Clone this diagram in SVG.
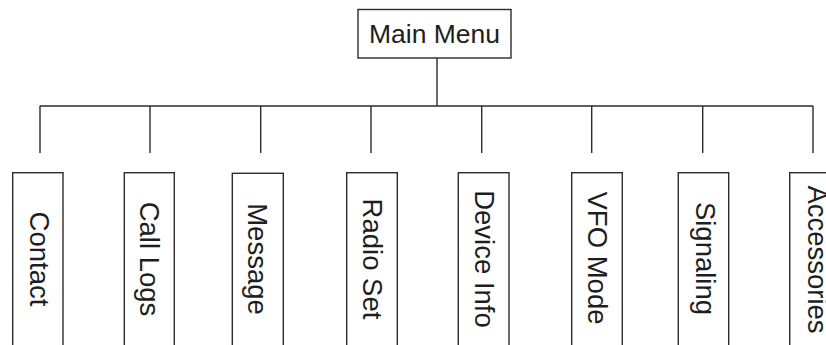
<svg xmlns="http://www.w3.org/2000/svg" width="826" height="345" viewBox="0 0 826 345">
<style>
.box{fill:#fff;stroke:#2b2b2b;stroke-width:1.4}
.ln{fill:none;stroke:#2b2b2b;stroke-width:1.4}
.lbl{font-family:"Liberation Sans",Arial,sans-serif;font-size:27.5px;fill:#1e1e1e;text-anchor:middle}
.ttl{font-family:"Liberation Sans",Arial,sans-serif;font-size:26.5px;fill:#1e1e1e;text-anchor:middle}
</style>
<rect width="826" height="345" fill="#fff"/>
<g id="connectors">
<path class="ln" d="M437 58V106M39.7 106H813M40 106V153M150 106V153M260.7 106V153M371 106V153M481.7 106V153M591.7 106V153M702.7 106V153M813 106V153"/>
</g>
<g id="main-menu">
<rect class="box" x="358" y="9.5" width="153" height="48.5"/>
<text class="ttl" x="434.5" y="43">Main Menu</text>
</g>
<g id="contact">
<rect class="box" x="12.7" y="172.7" width="50.3" height="200"/>
<text class="lbl" transform="translate(30 259) rotate(90)">Contact</text>
</g>
<g id="call-logs">
<rect class="box" x="124.3" y="172.7" width="50" height="200"/>
<text class="lbl" transform="translate(140 259) rotate(90)">Call Logs</text>
</g>
<g id="message">
<rect class="box" x="232.3" y="173.3" width="51" height="200"/>
<text class="lbl" transform="translate(248.3 259) rotate(90)">Message</text>
</g>
<g id="radio-set">
<rect class="box" x="346.7" y="172.7" width="50.6" height="200"/>
<text class="lbl" transform="translate(363.3 259) rotate(90)">Radio Set</text>
</g>
<g id="device-info">
<rect class="box" x="458.3" y="172.7" width="50.7" height="200"/>
<text class="lbl" transform="translate(475 259) rotate(90)">Device Info</text>
</g>
<g id="vfo-mode">
<rect class="box" x="571.7" y="172.7" width="50.6" height="200"/>
<text class="lbl" transform="translate(587.7 258) rotate(90)">VFO Mode</text>
</g>
<g id="signaling">
<rect class="box" x="678.3" y="172.7" width="50.4" height="200"/>
<text class="lbl" transform="translate(696 258.5) rotate(90)">Signaling</text>
</g>
<g id="accessories">
<rect class="box" x="789.7" y="172.7" width="60" height="200"/>
<text class="lbl" transform="translate(807.7 259.5) rotate(90)">Accessories</text>
</g>
</svg>
